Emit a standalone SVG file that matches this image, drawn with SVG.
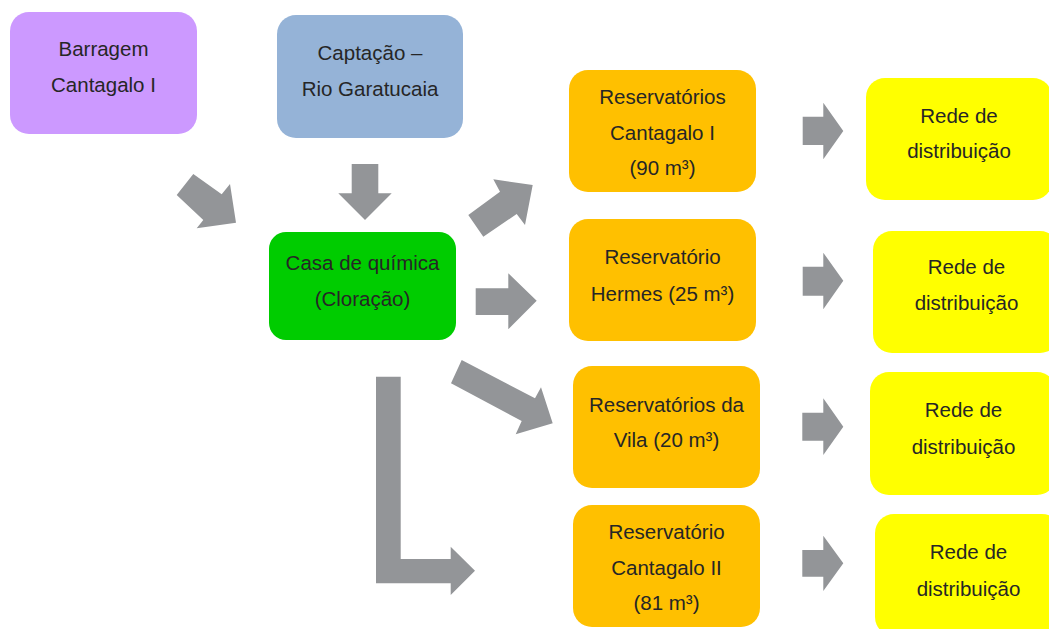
<svg xmlns="http://www.w3.org/2000/svg" width="1049" height="629" viewBox="0 0 1049 629">
<style>
.box{stroke:none}
.t{font-family:"Liberation Sans",Arial,sans-serif;font-size:20.5px;fill:#262626;text-anchor:middle}
.arr{fill:#939598}
.purple{fill:#CC99FF}
.blue{fill:#95B3D7}
.green{fill:#00CC00}
.orange{fill:#FFC000}
.yellow{fill:#FFFF00}
</style>
<rect width="1049" height="629" fill="#ffffff"/>
<g id="barragem">
<rect class="box purple" x="10" y="12" width="187" height="122" rx="19"/>
<text class="t" x="103.5" y="56">Barragem</text>
<text class="t" x="103.5" y="92">Cantagalo I</text>
</g>
<g id="captacao">
<rect class="box blue" x="277" y="15" width="186" height="123" rx="19"/>
<text class="t" x="370" y="60">Captação –</text>
<text class="t" x="370" y="96">Rio Garatucaia</text>
</g>
<g id="casa">
<rect class="box green" x="269" y="232" width="187" height="108" rx="17"/>
<text class="t" x="362.5" y="270">Casa de química</text>
<text class="t" x="362.5" y="306">(Cloração)</text>
</g>
<g id="res1">
<rect class="box orange" x="569" y="70" width="187" height="122" rx="19"/>
<text class="t" x="662.5" y="104">Reservatórios</text>
<text class="t" x="662.5" y="140">Cantagalo I</text>
<text class="t" x="662.5" y="175">(90 m³)</text>
</g>
<g id="res2">
<rect class="box orange" x="569" y="219" width="187" height="122" rx="19"/>
<text class="t" x="662.5" y="264">Reservatório</text>
<text class="t" x="662.5" y="301">Hermes (25 m³)</text>
</g>
<g id="res3">
<rect class="box orange" x="573" y="366" width="187" height="122" rx="19"/>
<text class="t" x="666.5" y="412">Reservatórios da</text>
<text class="t" x="666.5" y="447">Vila (20 m³)</text>
</g>
<g id="res4">
<rect class="box orange" x="573" y="505" width="187" height="122" rx="19"/>
<text class="t" x="666.5" y="539">Reservatório</text>
<text class="t" x="666.5" y="575">Cantagalo II</text>
<text class="t" x="666.5" y="610">(81 m³)</text>
</g>
<g id="rede1">
<rect class="box yellow" x="866" y="78" width="186" height="122" rx="19"/>
<text class="t" x="959" y="123">Rede de</text>
<text class="t" x="959" y="158">distribuição</text>
</g>
<g id="rede2">
<rect class="box yellow" x="873" y="231" width="186" height="122" rx="19"/>
<text class="t" x="966.5" y="274">Rede de</text>
<text class="t" x="966.5" y="310">distribuição</text>
</g>
<g id="rede3">
<rect class="box yellow" x="870" y="372" width="186" height="123" rx="19"/>
<text class="t" x="963.5" y="417">Rede de</text>
<text class="t" x="963.5" y="454">distribuição</text>
</g>
<g id="rede4">
<rect class="box yellow" x="875" y="514" width="186" height="122" rx="19"/>
<text class="t" x="968.5" y="559">Rede de</text>
<text class="t" x="968.5" y="596">distribuição</text>
</g>
<g id="connectors">
<polygon class="arr" points="193.3,174 221.7,194.3 230,184 236,222.7 196.7,228.3 203.3,220 176.7,195"/>
<polygon class="arr" points="351.7,164 378.3,164 378.3,193.3 391.7,193.3 365,220 338.3,193.3 351.7,193.3"/>
<polygon class="arr" points="468.3,215 500,191.7 493.3,179.3 532.7,185 525,225 516.7,214 483.3,236.7"/>
<polygon class="arr" points="475.7,288.3 508.3,288.3 508.3,273.3 536.7,300.7 508.3,329.3 508.3,315 475.7,315"/>
<polygon class="arr" points="461.7,360 535,398.3 541,387.3 552.7,423.3 515.7,434.3 521.7,421 451,383.3"/>
<polygon class="arr" points="376,376.7 400.7,376.7 400.7,559 450.7,559 450.7,546.7 475,570.7 450.7,595 450.7,583.3 376,583.3"/>
<polygon class="arr" points="802.7,116.7 823.3,116.7 823.3,102.7 843.3,131 823.3,159.3 823.3,145 802.7,145"/>
<polygon class="arr" points="802.7,266.7 823.3,266.7 823.3,252.7 843.3,280.7 823.3,309.3 823.3,295.7 802.7,295.7"/>
<polygon class="arr" points="802.3,412.7 823.3,412.7 823.3,398.3 843.3,426.7 823.3,455 823.3,440.7 802.3,440.7"/>
<polygon class="arr" points="802.3,550 823.3,550 823.3,535.7 843.3,563.3 823.3,591 823.3,576.7 802.3,576.7"/>
</g>
</svg>
